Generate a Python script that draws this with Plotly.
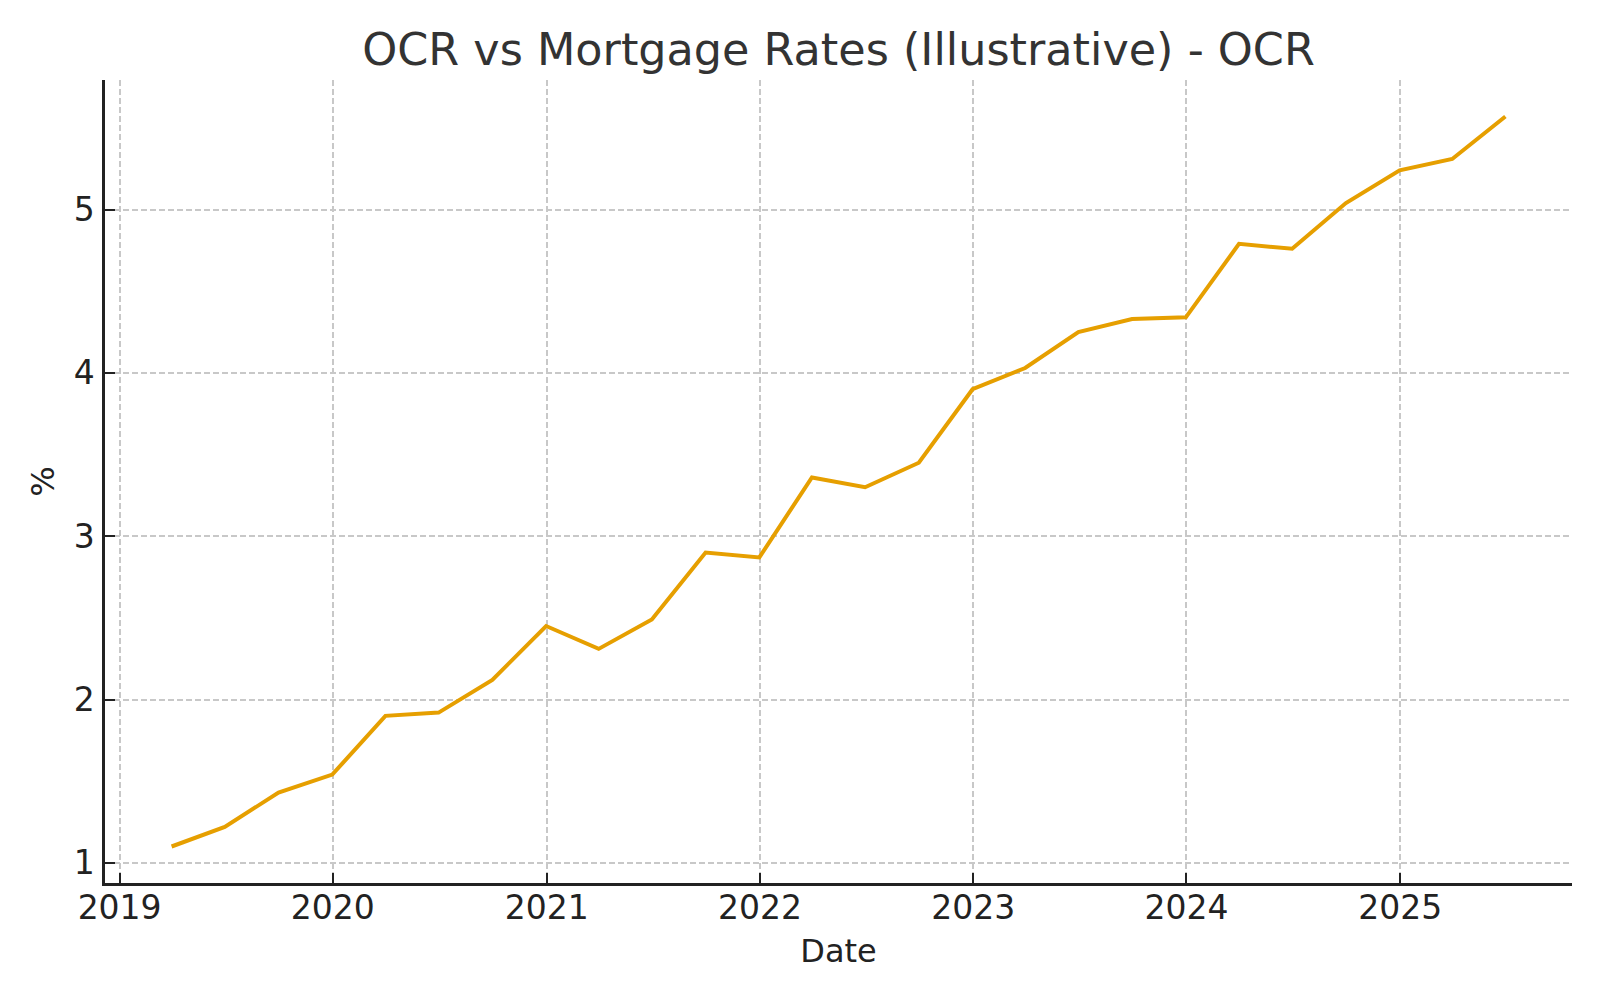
import plotly.graph_objects as go

dates = ["2019-03-31", "2019-06-30", "2019-09-30", "2019-12-31",
         "2020-03-31", "2020-06-30", "2020-09-30", "2020-12-31",
         "2021-03-31", "2021-06-30", "2021-09-30", "2021-12-31",
         "2022-03-31", "2022-06-30", "2022-09-30", "2022-12-31",
         "2023-03-31", "2023-06-30", "2023-09-30", "2023-12-31",
         "2024-03-31", "2024-06-30", "2024-09-30", "2024-12-31",
         "2025-03-31", "2025-06-30"]
ocr = [1.10, 1.22, 1.43, 1.54, 1.90, 1.92, 2.12, 2.45, 2.31, 2.49,
       2.90, 2.87, 3.36, 3.30, 3.45, 3.90, 4.03, 4.25, 4.33, 4.34,
       4.79, 4.76, 5.04, 5.24, 5.31, 5.57]
y_ticks = [1, 2, 3, 4, 5]

FONT = "DejaVu Sans"

fig = go.Figure()
fig.add_trace(go.Scatter(x=dates, y=ocr, mode="lines",
                         line=dict(color="#E69F00", width=4),
                         name="OCR", showlegend=False))

fig.update_layout(
    width=1600, height=1000,
    paper_bgcolor="white", plot_bgcolor="white",
    margin=dict(l=105, r=28, t=80, b=117),
    font=dict(family=FONT, color="#222222", size=33),
    title=dict(text="OCR vs Mortgage Rates (Illustrative) - OCR",
               font=dict(family=FONT, size=44.5, color="#333333"),
               x=0.5, xref="paper", xanchor="center",
               y=1 - 49 / 1000, yref="container", yanchor="middle"),
)

fig.update_xaxes(
    type="date", range=["2018-12-07", "2025-10-22"],
    tick0="2019-01-01", dtick="M12", tickformat="%Y",
    ticks="inside", ticklen=10, tickwidth=2, tickcolor="#222222",
    showline=True, linecolor="#222222", linewidth=2.5, mirror=False,
    showgrid=True, gridcolor="#c8c8c8", gridwidth=1.5, griddash="6px,3px",
    zeroline=False,
    tickfont=dict(family=FONT, size=33, color="#222222"),
    ticklabelstandoff=-6,
    title=dict(text="Date", font=dict(family=FONT, size=32, color="#222222"), standoff=14),
    automargin=False,
)
fig.update_yaxes(
    range=[0.8765, 5.7935], tickvals=y_ticks,
    ticks="inside", ticklen=10, tickwidth=2, tickcolor="#222222",
    showline=True, linecolor="#222222", linewidth=2.5, mirror=False,
    showgrid=True, gridcolor="#c8c8c8", gridwidth=1.5, griddash="6px,3px",
    zeroline=False,
    tickfont=dict(family=FONT, size=33, color="#222222"),
    ticklabelstandoff=1,
    title=dict(text="%", font=dict(family=FONT, size=32, color="#222222"), standoff=10),
    automargin=False,
)

fig.write_html("out.html")
